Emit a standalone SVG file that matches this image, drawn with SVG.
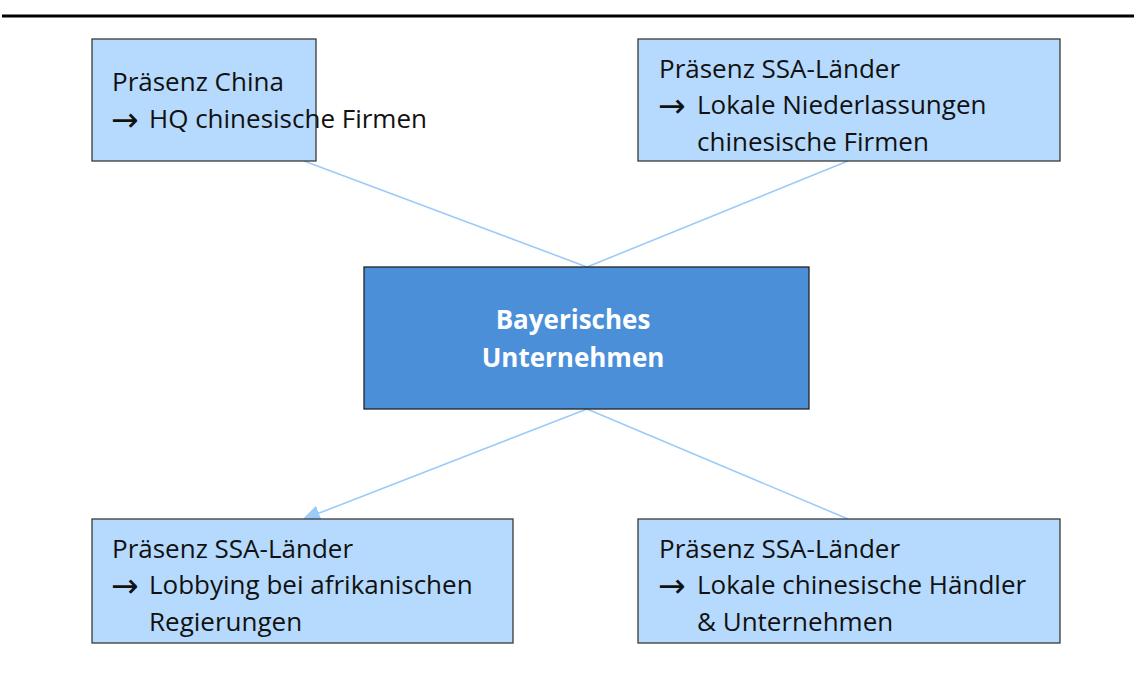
<svg xmlns="http://www.w3.org/2000/svg" width="1134" height="692" viewBox="0 0 1134 692">
<defs>
<style>
.box{fill:#B6DAFD;stroke:#3a3a3a;stroke-width:1.3}
.center{fill:#4C8FD9;stroke:#222;stroke-width:1.3}
.t{font-family:"Open Sans","Noto Sans","Liberation Sans",sans-serif;font-size:26px;fill:#111}
.ar{font-family:"DejaVu Sans",sans-serif;font-size:33px}
.c{font-family:"Open Sans","Noto Sans","Liberation Sans",sans-serif;font-size:26px;font-weight:bold;fill:#fff;text-anchor:middle}
.ln{stroke:#9DCBF7;stroke-width:1.6;fill:none}
</style>
<marker id="ah" markerWidth="18" markerHeight="16" refX="16" refY="8" orient="auto" markerUnits="userSpaceOnUse">
<path d="M0,0 L18,8 L0,16 Z" fill="#9DCBF7"/>
</marker>
</defs>
<rect width="1134" height="692" fill="#fff"/>
<line x1="2" y1="16" x2="1134" y2="16" stroke="#000" stroke-width="3"/>
<g id="connectors">
<line class="ln" x1="304" y1="161" x2="587" y2="267"/>
<line class="ln" x1="848" y1="161" x2="587" y2="267"/>
<line class="ln" x1="587" y1="409" x2="304" y2="519" marker-end="url(#ah)"/>
<line class="ln" x1="587" y1="409" x2="848" y2="519"/>
</g>
<g id="node-china">
<rect class="box" x="92" y="39" width="224" height="122"/>
<text class="t" x="112" y="91">Präsenz China</text>
<text class="t" x="111" y="128"><tspan class="ar" dy="3">→</tspan><tspan x="149" dy="-3">HQ chinesische Firmen</tspan></text>
</g>
<g id="node-ssa-top">
<rect class="box" x="638" y="39" width="422" height="122"/>
<text class="t" x="659" y="78">Präsenz SSA-Länder</text>
<text class="t" x="658" y="114"><tspan class="ar" dy="3">→</tspan><tspan x="697" dy="-3">Lokale Niederlassungen</tspan></text>
<text class="t" x="697" y="151">chinesische Firmen</text>
</g>
<g id="node-center">
<rect class="center" x="364" y="267" width="445" height="142"/>
<text class="c" x="573" y="329">Bayerisches</text>
<text class="c" x="573" y="367">Unternehmen</text>
</g>
<g id="node-ssa-lobby">
<rect class="box" x="92" y="519" width="421" height="124"/>
<text class="t" x="112" y="558">Präsenz SSA-Länder</text>
<text class="t" x="111" y="594"><tspan class="ar" dy="3">→</tspan><tspan x="149" dy="-3">Lobbying bei afrikanischen</tspan></text>
<text class="t" x="149" y="631">Regierungen</text>
</g>
<g id="node-ssa-haendler">
<rect class="box" x="638" y="519" width="422" height="124"/>
<text class="t" x="659" y="558">Präsenz SSA-Länder</text>
<text class="t" x="658" y="594"><tspan class="ar" dy="3">→</tspan><tspan x="697" dy="-3">Lokale chinesische Händler</tspan></text>
<text class="t" x="697" y="631">&amp; Unternehmen</text>
</g>
</svg>
